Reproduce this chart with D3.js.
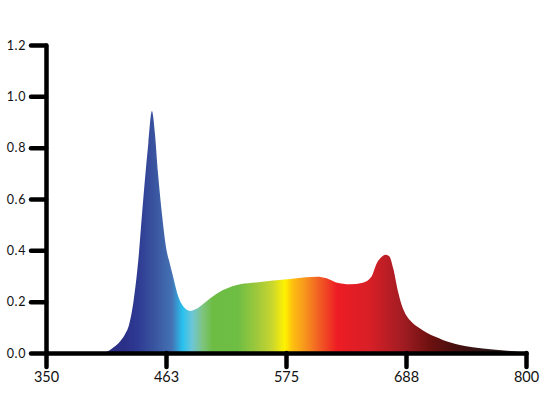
<!DOCTYPE html>
<html>
<head>
<meta charset="utf-8">
<script src="https://cdn.jsdelivr.net/npm/d3@7"></script>
<style>
  html, body { margin: 0; padding: 0; background: #fff; }
  svg { display: block; }
</style>
</head>
<body>
<svg id="chart" width="558" height="412"></svg>
<script>
// ─── Data ─────────────────────────────────────────────────────────────────────
const wavelengths = [350, 400, 406, 410, 415, 420, 424, 428, 432, 436.5, 441, 446, 449.3, 452, 455, 459,
  463, 466, 469, 474, 479, 485, 491, 497, 504, 516, 532, 547, 563, 579, 594, 604, 613, 622, 635, 647,
  655, 660, 664, 668.5, 672, 675.5, 680, 684, 688, 693, 700, 707, 715, 722, 730, 738, 750, 769, 785, 795, 800];
const intensity = [0, 0, 0.004, 0.012, 0.027, 0.048, 0.072, 0.112, 0.20, 0.36, 0.59, 0.82, 0.943, 0.86, 0.70, 0.53,
  0.40, 0.35, 0.30, 0.22, 0.18, 0.164, 0.172, 0.19, 0.213, 0.245, 0.268, 0.275, 0.282, 0.288, 0.295, 0.297, 0.291, 0.275, 0.268, 0.274,
  0.297, 0.349, 0.372, 0.383, 0.376, 0.33, 0.24, 0.18, 0.145, 0.12, 0.097, 0.079, 0.063, 0.051, 0.04, 0.031, 0.022, 0.014, 0.008, 0.003, 0];

// spectrum colour stops (nm, colour)
const stopNm = [408, 424, 436, 452, 468, 478, 487, 497, 506, 530, 549, 562, 574, 581, 593, 607, 623, 654, 685, 710, 732, 763, 782];
const stopColor = ['#2b2e83', '#2b3087', '#2e3a92', '#3a55a0', '#4472b4', '#28c1ef', '#6dc6d8', '#7ec47e', '#6dbd45',
  '#6ebe44', '#a2c93a', '#c9d62f', '#fff200', '#fdc010', '#f7941d', '#f15a24', '#ed1c24', '#d71f27', '#a01c22',
  '#6e1010', '#4a0e0e', '#2c1515', '#2a1b1b'];

const xTicks = [350, 462.5, 575, 687.5, 800];
const xTickLabels = ['350', '463', '575', '688', '800'];
const yTicks = [0, 0.2, 0.4, 0.6, 0.8, 1.0, 1.2];

// ─── Chart ────────────────────────────────────────────────────────────────────
const svg = d3.select('#chart');
const x = d3.scaleLinear().domain([350, 800]).range([46, 526]);
const y = d3.scaleLinear().domain([0, 1.2]).range([353, 45]);

const points = wavelengths.map((w, i) => ({ w, v: intensity[i] }));

// Gradient
const grad = svg.append('defs').append('linearGradient')
  .attr('id', 'spectrum')
  .attr('gradientUnits', 'userSpaceOnUse')
  .attr('x1', x(350)).attr('x2', x(800)).attr('y1', 0).attr('y2', 0);
grad.selectAll('stop').data(stopNm).join('stop')
  .attr('offset', d => (x(d) - x(350)) / (x(800) - x(350)))
  .attr('stop-color', (d, i) => stopColor[i]);

// Area
const area = d3.area()
  .x(d => x(d.w))
  .y0(y(0))
  .y1(d => y(d.v))
  .curve(d3.curveMonotoneX);

svg.append('path').datum(points)
  .attr('d', area)
  .attr('fill', 'url(#spectrum)');

// Y axis
svg.append('g')
  .attr('transform', `translate(${x(350)},0)`)
  .call(d3.axisLeft(y).tickValues(yTicks).tickSize(15).tickSizeOuter(0).tickPadding(5).tickFormat(d3.format('.1f')))
  .call(g => g.selectAll('.domain, line').attr('stroke', '#000').attr('stroke-width', 4.5).attr('stroke-linecap', 'round'))
  .call(g => g.selectAll('text').attr('font-family', 'Lato, sans-serif').attr('font-size', 12.5)
    .attr('letter-spacing', 0.6).attr('fill', '#111'));

// X axis
svg.append('g')
  .attr('transform', `translate(0,${y(0)})`)
  .call(d3.axisBottom(x).tickValues(xTicks).tickSize(14).tickSizeOuter(0).tickPadding(5)
    .tickFormat((d, i) => xTickLabels[i]))
  .call(g => g.selectAll('.domain, line').attr('stroke', '#000').attr('stroke-width', 4.5).attr('stroke-linecap', 'round'))
  .call(g => g.selectAll('text').attr('font-family', 'Lato, sans-serif').attr('font-size', 14.5).attr('fill', '#111'));

svg.selectAll('.domain').attr('fill', 'none');
</script>
</body>
</html>
